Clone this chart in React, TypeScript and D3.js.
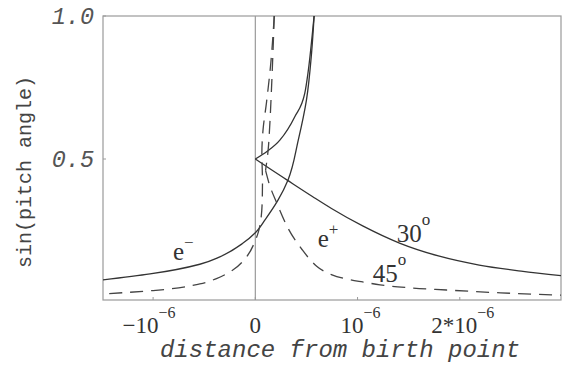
import React from 'react';
import * as d3 from 'd3';

const W = 562;
const H = 365;

// axis domains (distance in metres, sin of pitch angle)
const xDomain: [number, number] = [-1.49e-6, 2.99e-6];
const yDomain: [number, number] = [0.007, 1.0];

const xTicks = [-1e-6, 0, 1e-6, 2e-6];
const xTickBase = ['\u221210', '0', '10', '2*10'];
const xTickExp = ['\u22126', '', '\u22126', '\u22126'];
const yTicks = [0.5, 1.0];
const yTickLabels = ['0.5', '1.0'];

const xTitle = 'distance from birth point';
const yTitle = 'sin(pitch angle)';

// curves, x in units of 1e-6
const positron30: [number, number][] = [
  [0, 0.5], [0.15, 0.464], [0.308, 0.427], [0.562, 0.368], [0.745, 0.327],
  [1.05, 0.266], [1.41, 0.206], [1.8, 0.16], [2.19, 0.129], [2.6, 0.108], [2.99, 0.092],
];
const electron30Out: [number, number][] = [
  [0, 0.5], [0.12, 0.528], [0.24, 0.566], [0.386, 0.648], [0.484, 0.73],
  [0.515, 0.8], [0.575, 1.0],
];
const electron30Back: [number, number][] = [
  [0.575, 1.0], [0.55, 0.87], [0.5, 0.706], [0.42, 0.566], [0.32, 0.427],
  [0.223, 0.357], [0.1, 0.29], [0, 0.242], [-0.12, 0.206], [-0.347, 0.158],
  [-0.543, 0.132], [-1.03, 0.098], [-1.49, 0.077],
];
const positron45: [number, number][] = [
  [0.1, 0.46], [0.13, 0.42], [0.21, 0.346], [0.31, 0.265], [0.46, 0.182],
  [0.6, 0.125], [0.75, 0.095], [0.9, 0.08], [1.05, 0.07], [1.22, 0.06],
  [1.5, 0.05], [1.87, 0.042], [2.4, 0.032], [2.99, 0.024],
];
const electron45Out: [number, number][] = [
  [0.1, 0.46], [0.125, 0.53], [0.14, 0.61], [0.155, 0.72], [0.17, 0.85], [0.185, 1.0],
];
const electron45Back: [number, number][] = [
  [0.185, 1.0], [0.15, 0.83], [0.11, 0.7], [0.075, 0.6], [0.064, 0.52], [0.07, 0.42],
  [0.068, 0.36], [0.055, 0.29], [0.03, 0.245], [0, 0.215], [-0.086, 0.158],
  [-0.22, 0.112], [-0.38, 0.082], [-0.543, 0.063], [-1.0, 0.04], [-1.49, 0.028],
];

// annotations: text, superscript, data position (x in 1e-6)
const labelText = ['e', 'e', '30', '45'];
const labelSup = ['\u2212', '+', 'o', 'o'];
const labelX = [-0.806, 0.61, 1.383, 1.149];
const labelY = [0.147, 0.192, 0.21, 0.07];

const PLOT = { left: 103, right: 561, top: 16, bottom: 300 };

export default function App() {
  const x = d3.scaleLinear().domain(xDomain).range([PLOT.left, PLOT.right]);
  const y = d3.scaleLinear().domain(yDomain).range([PLOT.bottom, PLOT.top]);
  const lineX = d3
    .line<[number, number]>()
    .x((d) => x(d[0] * 1e-6))
    .y((d) => y(d[1]))
    .curve(d3.curveMonotoneX);
  const lineY = d3
    .line<[number, number]>()
    .x((d) => x(d[0] * 1e-6))
    .y((d) => y(d[1]))
    .curve(d3.curveMonotoneY);

  const byX = (a: [number, number][]) => [...a].sort((p, q) => p[0] - q[0]);
  const byY = (a: [number, number][]) => [...a].sort((p, q) => y(p[1]) - y(q[1]));

  const serif = '"Liberation Serif", "Times New Roman", serif';
  const mono = '"Liberation Mono", "DejaVu Sans Mono", monospace';
  const frame = '#9a9a9a';
  const ink = '#333';

  const solidPaths = [
    lineX(byX(positron30)),
    lineX(byX(electron30Out)),
    lineY(byY(electron30Back)),
  ];
  const dashedPaths = [
    lineX(byX(positron45)),
    lineY(byY(electron45Out)),
    lineY(byY(electron45Back)),
  ];

  return (
    <svg
      width={W}
      height={H}
      style={{ position: 'absolute', left: 0, top: 0, background: '#fff' }}
    >
      <defs>
        <clipPath id="plotclip">
          <rect
            x={PLOT.left}
            y={PLOT.top}
            width={PLOT.right - PLOT.left}
            height={PLOT.bottom - PLOT.top}
          />
        </clipPath>
      </defs>
      <rect x={0} y={0} width={W} height={H} fill="#fff" />
      {/* frame */}
      <rect
        x={PLOT.left}
        y={PLOT.top}
        width={PLOT.right - PLOT.left}
        height={PLOT.bottom - PLOT.top}
        fill="none"
        stroke={frame}
        strokeWidth={1.2}
      />
      {/* zero line */}
      <line x1={x(0)} x2={x(0)} y1={PLOT.top} y2={PLOT.bottom} stroke={frame} strokeWidth={1.2} />
      {/* x ticks */}
      {xTicks.map((t, i) => (
        <g key={'xt' + i}>
          <line x1={x(t)} x2={x(t)} y1={PLOT.bottom} y2={PLOT.bottom - 3} stroke={frame} />
          <text
            x={x(t) + (i === 0 ? -4 : i === 1 ? 0 : 3)}
            y={333}
            textAnchor="middle"
            fontFamily={serif}
            fontSize={23}
            fill={ink}
          >
            {xTickBase[i]}
            {xTickExp[i] && (
              <tspan dy={-15} fontSize={16}>
                {xTickExp[i]}
              </tspan>
            )}
          </text>
        </g>
      ))}
      {/* y ticks */}
      {yTicks.map((t, i) => (
        <g key={'yt' + i}>
          <line x1={PLOT.left} x2={PLOT.left + 3} y1={y(t)} y2={y(t)} stroke={frame} />
          <text
            x={94}
            y={y(t) + 8}
            textAnchor="end"
            fontFamily={mono}
            fontStyle="italic"
            fontSize={23.5}
            fill="#555"
          >
            {yTickLabels[i]}
          </text>
        </g>
      ))}
      {/* curves */}
      <g clipPath="url(#plotclip)" fill="none" stroke={ink} strokeWidth={1.3}>
        {solidPaths.map((d, i) => (
          <path key={'s' + i} d={d || ''} />
        ))}
        {dashedPaths.map((d, i) => (
          <path key={'d' + i} d={d || ''} strokeDasharray="13 8" stroke="#444" />
        ))}
      </g>
      {/* annotations */}
      {labelText.map((t, i) => (
        <text
          key={'l' + i}
          x={x(labelX[i] * 1e-6)}
          y={y(labelY[i])}
          fontFamily={serif}
          fontSize={25}
          fill={ink}
        >
          {t}
          <tspan dy={i < 2 ? -12 : -17} fontSize={17}>
            {labelSup[i]}
          </tspan>
        </text>
      ))}
      {/* axis titles */}
      <text
        x={340}
        y={357}
        textAnchor="middle"
        fontFamily={mono}
        fontStyle="italic"
        fontSize={24}
        fill="#444"
      >
        {xTitle}
      </text>
      <text
        transform={`translate(31, ${(PLOT.top + PLOT.bottom) / 2 + 14}) rotate(-90)`}
        textAnchor="middle"
        fontFamily={mono}
        fontSize={20}
        fill="#444"
      >
        {yTitle}
      </text>
    </svg>
  );
}
